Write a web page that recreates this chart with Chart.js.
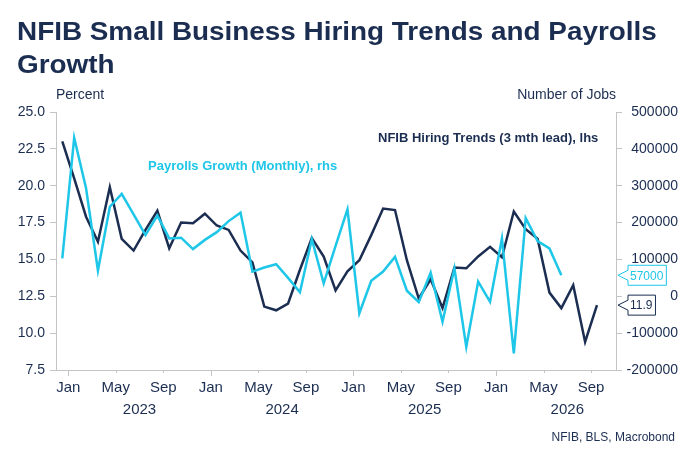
<!DOCTYPE html>
<html>
<head>
<meta charset="utf-8">
<title>NFIB Small Business Hiring Trends and Payrolls Growth</title>
<script src="https://cdn.jsdelivr.net/npm/chart.js@4.4.1/dist/chart.umd.min.js"></script>
<style>
  html, body { margin: 0; padding: 0; background: #fff; }
  #wrap { width: 697px; height: 464px; }
</style>
</head>
<body>
<div id="wrap"><canvas id="hiringChart" width="697" height="464"></canvas></div>
<script>
// one point per month, starting Jan 2023
const months = [
  'Jan 2023', 'Feb 2023', 'Mar 2023', 'Apr 2023', 'May 2023', 'Jun 2023', 'Jul 2023', 'Aug 2023', 'Sep 2023', 'Oct 2023', 'Nov 2023', 'Dec 2023',
  'Jan 2024', 'Feb 2024', 'Mar 2024', 'Apr 2024', 'May 2024', 'Jun 2024', 'Jul 2024', 'Aug 2024', 'Sep 2024', 'Oct 2024', 'Nov 2024', 'Dec 2024',
  'Jan 2025', 'Feb 2025', 'Mar 2025', 'Apr 2025', 'May 2025', 'Jun 2025', 'Jul 2025', 'Aug 2025', 'Sep 2025', 'Oct 2025', 'Nov 2025', 'Dec 2025',
  'Jan 2026', 'Feb 2026', 'Mar 2026', 'Apr 2026', 'May 2026', 'Jun 2026', 'Jul 2026', 'Aug 2026', 'Sep 2026', 'Oct 2026'
];

// NFIB hiring plans, shifted 3 months ahead (percent, left axis)
const nfibHiring = [
  23.0, 20.5, 17.9, 16.2, 19.9, 16.4, 15.6, 17.0, 18.3, 15.75, 17.5, 17.45,
  18.1, 17.3, 17.0, 15.6, 14.8, 11.8, 11.55, 12.0, 14.3, 16.45, 15.2, 12.9,
  14.2, 14.95, 16.65, 18.45, 18.35, 14.95, 12.35, 13.65, 11.7, 14.45, 14.4, 15.2,
  15.85, 15.15, 18.25, 17.05, 16.4, 12.75, 11.7, 13.25, 9.4, 11.9
];

// nonfarm payrolls, monthly change (jobs, right axis)
const payrollsGrowth = [
  103000, 430000, 293000, 70000, 243000, 278000, 222000, 166000, 219000, 157000, 159000, 128000,
  153000, 174000, 204000, 227000, 67000, 78000, 87000, 50000, 11000, 155000, 35000, 137000,
  236000, -46000, 42000, 67000, 107000, 15000, -16000, 64000, -69000, 76000, -137000, 40000,
  -15000, 157000, -155000, 212000, 150000, 130000, 57000
];

const monthTicks = ['Jan', 'May', 'Sep'];
const years = ['2023', '2024', '2025', '2026'];

const NAVY = '#1b2d50';
const CYAN = '#1ec6e8';
const AXIS = '#c4c4c4';
const FONT = '"Liberation Sans", Arial, Helvetica, sans-serif';

function toPoints(values) {
  return values.map((v, i) => ({ x: i, y: v }));
}

function drawTag(ctx, yPix, text, color) {
  const tipX = 618, boxX = 628, h = 20;
  ctx.font = '12px ' + FONT;
  const w = ctx.measureText(text).width + 5;
  ctx.beginPath();
  ctx.moveTo(tipX, yPix);
  ctx.lineTo(boxX, yPix - 5);
  ctx.lineTo(boxX, yPix - h / 2);
  ctx.lineTo(boxX + w, yPix - h / 2);
  ctx.lineTo(boxX + w, yPix + h / 2);
  ctx.lineTo(boxX, yPix + h / 2);
  ctx.lineTo(boxX, yPix + 5);
  ctx.closePath();
  ctx.fillStyle = '#fff';
  ctx.fill();
  ctx.lineWidth = 1;
  ctx.strokeStyle = color;
  ctx.stroke();
  ctx.fillStyle = color;
  ctx.textAlign = 'left';
  ctx.textBaseline = 'middle';
  ctx.fillText(text, boxX + 2, yPix + 1);
}

const overlay = {
  id: 'overlay',
  beforeDraw(chart) {
    const ctx = chart.ctx;
    ctx.save();
    ctx.fillStyle = '#fff';
    ctx.fillRect(0, 0, chart.width, chart.height);
    ctx.restore();
  },
  afterDraw(chart) {
    const { ctx, chartArea } = chart;
    const x = chart.scales.x, yL = chart.scales.yL, yR = chart.scales.yR;
    ctx.save();

    // title - the original face is wider than Arial, so stretch it a bit
    ctx.fillStyle = NAVY;
    ctx.textAlign = 'left';
    ctx.textBaseline = 'alphabetic';
    ctx.font = 'bold 25px ' + FONT;
    ctx.save();
    ctx.translate(17, 0);
    ctx.scale(1.115, 1);
    ctx.fillText('NFIB Small Business Hiring Trends and Payrolls', 0, 40);
    ctx.fillText('Growth', 0, 73);
    ctx.restore();

    // axis titles
    ctx.font = '14px ' + FONT;
    ctx.fillText('Percent', 56, 99);
    ctx.textAlign = 'right';
    ctx.fillText('Number of Jobs', 616, 99);

    // series labels
    ctx.font = 'bold 13px ' + FONT;
    ctx.textAlign = 'left';
    ctx.fillText('NFIB Hiring Trends (3 mth lead), lhs', 378, 142);
    ctx.fillStyle = CYAN;
    ctx.fillText('Payrolls Growth (Monthly), rhs', 148, 170);

    // x tick marks, longer at year start
    ctx.strokeStyle = AXIS;
    ctx.lineWidth = 1;
    x.ticks.forEach(t => {
      const px = Math.round(x.getPixelForValue(t.value)) + 0.5;
      const isJan = months[Math.floor(t.value)].startsWith('Jan');
      ctx.beginPath();
      ctx.moveTo(px, chartArea.bottom);
      ctx.lineTo(px, chartArea.bottom + (isJan ? 6 : 3));
      ctx.stroke();
    });

    // year labels under the month ticks
    ctx.fillStyle = NAVY;
    ctx.font = '15px ' + FONT;
    ctx.textAlign = 'center';
    years.forEach(yr => {
      const idx = months.indexOf('Jan ' + yr);
      ctx.fillText(yr, x.getPixelForValue(idx + 6.5), 414);
    });

    // source
    ctx.font = '12px ' + FONT;
    ctx.textAlign = 'right';
    ctx.fillText('NFIB, BLS, Macrobond', 675, 441);

    // last value tags
    const lastPay = payrollsGrowth[payrollsGrowth.length - 1];
    const lastNfib = nfibHiring[nfibHiring.length - 1];
    drawTag(ctx, yR.getPixelForValue(lastPay), String(lastPay), CYAN);
    drawTag(ctx, yL.getPixelForValue(lastNfib), lastNfib.toFixed(1), NAVY);

    ctx.restore();
  }
};

new Chart(document.getElementById('hiringChart'), {
  type: 'line',
  data: {
    datasets: [
      {
        label: 'Payrolls Growth (Monthly), rhs',
        data: toPoints(payrollsGrowth),
        yAxisID: 'yR',
        borderColor: CYAN,
        borderWidth: 2.5,
        pointRadius: 0,
        tension: 0,
        order: 0
      },
      {
        label: 'NFIB Hiring Trends (3 mth lead), lhs',
        data: toPoints(nfibHiring),
        yAxisID: 'yL',
        borderColor: NAVY,
        borderWidth: 2.5,
        pointRadius: 0,
        tension: 0,
        order: 1
      }
    ]
  },
  options: {
    responsive: false,
    animation: false,
    events: [],
    layout: { padding: { top: 112, left: 0, right: 19, bottom: 0 } },
    plugins: {
      legend: { display: false },
      tooltip: { enabled: false }
    },
    scales: {
      x: {
        type: 'linear',
        min: -0.53,
        max: 46.6,
        afterBuildTicks(scale) {
          scale.ticks = months
            .map((m, i) => ({ value: i + 0.5, name: m.slice(0, 3) }))
            .filter(t => monthTicks.includes(t.name))
            .map(t => ({ value: t.value }));
        },
        afterFit(scale) { scale.height = 94; },
        grid: { drawOnChartArea: false, drawTicks: false },
        border: { color: AXIS },
        ticks: {
          padding: 9,
          maxRotation: 0,
          autoSkip: false,
          color: NAVY,
          font: { family: FONT, size: 15 },
          callback: v => months[Math.floor(v)].slice(0, 3)
        }
      },
      yL: {
        position: 'left',
        min: 7.5,
        max: 25,
        afterFit(scale) { scale.width = 56; },
        grid: { drawOnChartArea: false, tickLength: 6, color: AXIS },
        border: { color: AXIS },
        ticks: {
          stepSize: 2.5,
          padding: 5,
          color: NAVY,
          font: { family: FONT, size: 14 },
          callback: v => v.toFixed(1)
        }
      },
      yR: {
        position: 'right',
        min: -200000,
        max: 500000,
        afterFit(scale) { scale.width = 62; },
        grid: { drawOnChartArea: false, tickLength: 6, color: AXIS },
        border: { color: AXIS },
        ticks: {
          stepSize: 100000,
          padding: 8,
          crossAlign: 'far',
          color: NAVY,
          font: { family: FONT, size: 14 },
          callback: v => String(v)
        }
      }
    }
  },
  plugins: [overlay]
});
</script>
</body>
</html>
